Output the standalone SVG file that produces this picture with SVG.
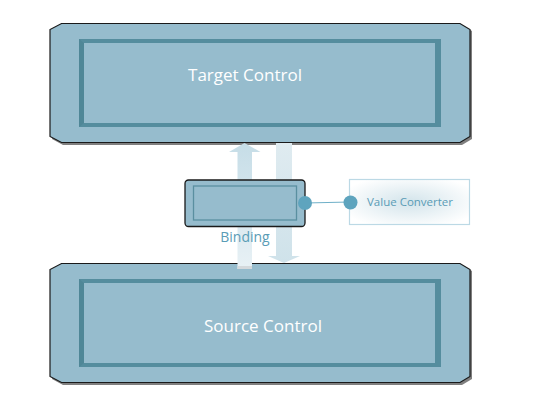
<svg xmlns="http://www.w3.org/2000/svg" width="538" height="418" viewBox="0 0 538 418">
<defs>
<style>
.shadow{fill:#7f7f7f}
.outer{fill:#96bccd;stroke:#1a1a1a;stroke-width:1.2}
.bevel{fill:#558d9e}
.bevel2{fill:#4f8797}
.face{fill:#96bccd}
.big{font-family:"Open Sans","Noto Sans",sans-serif;font-size:17px;fill:#ffffff;text-anchor:middle}
.lbl{font-family:"Open Sans","Noto Sans",sans-serif;fill:#5a9cb6;text-anchor:middle}
.dot{fill:#5ea4be}
</style>
<linearGradient id="upg" x1="0" y1="0" x2="0" y2="1">
<stop offset="0" stop-color="#c6dde7"/>
<stop offset="1" stop-color="#e8f1f5"/>
</linearGradient>
<linearGradient id="dng" x1="0" y1="0" x2="0" y2="1">
<stop offset="0" stop-color="#dfebf0"/>
<stop offset="1" stop-color="#cfe2ea"/>
</linearGradient>
<radialGradient id="vcg" cx="0.5" cy="0.5" r="0.6">
<stop offset="0" stop-color="#d3e4eb"/>
<stop offset="1" stop-color="#ffffff"/>
</radialGradient>
</defs>

<g id="target-control">
<polygon class="shadow" points="63,25 462,25 472,31 472,139 462,145 63,145 52,139"/>
<polygon class="outer" points="61.5,23.5 460,23.5 470,29.5 470,136.5 460,142.5 61.5,142.5 50,136.5 50,29.5"/>
<rect class="bevel" x="79" y="39" width="362" height="88"/>
<polygon class="bevel2" points="79,39 84,43 84,123 79,127"/>
<rect class="face" x="84" y="43" width="351" height="80"/>
<text class="big" x="245" y="81">Target Control</text>
</g>

<g id="source-control">
<polygon class="shadow" points="63,265 462,265 472,271 472,379 462,385 63,385 52,379"/>
<polygon class="outer" points="61.5,263.5 460,263.5 470,269.5 470,376.5 460,382.5 61.5,382.5 50,376.5 50,269.5"/>
<rect class="bevel" x="79" y="279" width="362" height="88"/>
<polygon class="bevel2" points="79,279 84,283 84,363 79,367"/>
<rect class="face" x="84" y="283" width="351" height="80"/>
<text class="big" x="263" y="332">Source Control</text>
</g>

<g id="connectors">
<polygon fill="url(#upg)" points="244.5,143 260.5,152 252,152 252,269 237.5,269 237.5,152 229,152"/>
<rect x="237.5" y="266" width="14.5" height="3" fill="#d4d9dc"/>
<polygon fill="url(#dng)" points="276,143 292,143 292,256 300,256 284,263 268,256 276,256"/>
<line x1="305" y1="203" x2="350" y2="202" stroke="#6fb0c8" stroke-width="1"/>
</g>

<g id="binding">
<rect x="185" y="180" width="120" height="46.5" rx="3.5" fill="#96bccd" stroke="#1a1a1a" stroke-width="1.3"/>
<rect x="193.5" y="186" width="103" height="34" fill="#96bccd" stroke="#5a8fa0" stroke-width="1.3"/>
<text class="lbl" x="245" y="242" font-size="14px">Binding</text>
<circle class="dot" cx="305" cy="203" r="7"/>
</g>

<g id="value-converter">
<rect x="349.5" y="179.5" width="120" height="45" fill="url(#vcg)" stroke="#bcd9e5" stroke-width="1.2"/>
<circle class="dot" cx="350.5" cy="202.5" r="7"/>
<text class="lbl" x="410" y="206" font-size="11.5px">Value Converter</text>
</g>
</svg>
